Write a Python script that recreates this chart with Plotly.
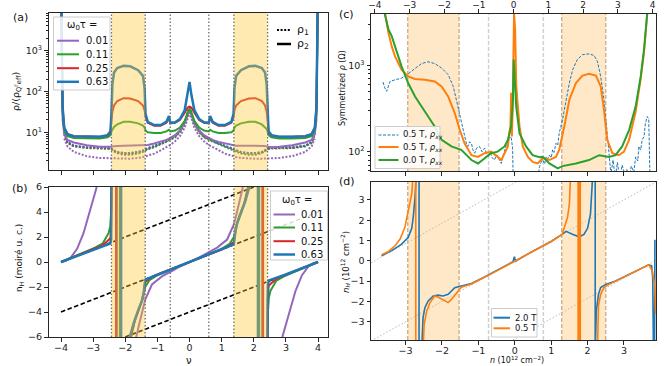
import plotly.graph_objects as go

W, H = 664, 366
FONT = "DejaVu Sans"

# ---------- data: panel (a) theory resistivity ----------
NU_A = [-3.99, -3.95, -3.9, -3.8, -3.6, -3.2, -2.8, -2.55, -2.46, -2.43, -2.4, -2.35, -2.25, -2.05, -1.85,
        -1.6, -1.45, -1.4, -1.37, -1.3, -1.1, -0.9, -0.72, -0.64, -0.6, -0.45, -0.3, -0.15, -0.06, 0,
        0.06, 0.15, 0.3, 0.45, 0.6, 0.64, 0.72, 0.9, 1.1, 1.3, 1.37, 1.4, 1.45, 1.6, 1.85,
        2.05, 2.25, 2.35, 2.4, 2.43, 2.46, 2.55, 2.8, 3.2, 3.6, 3.8, 3.9, 3.95, 3.99]

RHO2_063 = [12000, 40, 13, 9, 8, 7.8, 7.8, 8.5, 10.5, 30, 150, 290, 370, 420, 410, 330, 240, 120, 28, 18,
            15, 15, 18, 25, 17, 17.5, 21, 35, 80, 170,
            80, 35, 21, 17.5, 17, 25, 18, 15, 15, 18, 28, 120, 240, 330, 410, 420, 370, 290, 150, 30,
            10.5, 8.5, 7.8, 7.8, 8, 9, 13, 40, 12000]
RHO2_025 = [12000, 40, 13, 9, 8, 7.7, 7.7, 8.3, 10, 20, 32, 45, 58, 68, 67, 58, 45, 35, 24, 17,
            14.5, 14.5, 17, 23, 16.5, 17, 20, 30, 40, 42,
            40, 30, 20, 17, 16.5, 23, 17, 14.5, 14.5, 17, 24, 35, 45, 58, 67, 68, 58, 45, 32, 20,
            10, 8.3, 7.7, 7.7, 8, 9, 13, 40, 12000]
RHO2_011 = [12000, 30, 11, 8, 7.2, 7, 7, 7.5, 8.5, 10.5, 12, 13.5, 15.5, 18, 18, 16.5, 14.5, 13, 11, 10,
            9.6, 9.6, 10.5, 11.5, 10.5, 11, 13, 19, 30, 36,
            30, 19, 13, 11, 10.5, 11.5, 10.5, 9.6, 9.6, 10, 11, 13, 14.5, 16.5, 18, 18, 15.5, 13.5, 12, 10.5,
            8.5, 7.5, 7, 7, 7.2, 8, 11, 30, 12000]
RHO2_001 = [12000, 20, 9, 6.5, 5.6, 4.8, 4.4, 4.3, 4.4, 4.5, 4.5, 4.6, 4.6, 4.7, 4.7, 4.7, 4.7, 4.7, 4.8, 4.9,
            5.3, 5.8, 6.5, 7, 7.3, 8.5, 11, 17, 27, 33,
            27, 17, 11, 8.5, 7.3, 7, 6.5, 5.8, 5.3, 4.9, 4.8, 4.7, 4.7, 4.7, 4.7, 4.7, 4.6, 4.6, 4.5, 4.5,
            4.4, 4.3, 4.4, 4.8, 5.6, 6.5, 9, 20, 12000]

RHO1_001 = [None, None, 7, 4.5, 3.3, 2.6, 2.35, 2.3, 2.3, 2.3, 2.28, 2.27, 2.25, 2.25, 2.25, 2.35, 2.45, 2.5, 2.55, 2.7,
            3.0, 3.6, 4.3, 4.7, 4.9, 6, 8, 13, 22, 30,
            22, 13, 8, 6, 4.9, 4.7, 4.3, 3.6, 3.0, 2.7, 2.55, 2.5, 2.45, 2.35, 2.25, 2.25, 2.25, 2.27, 2.28, 2.3,
            2.3, 2.3, 2.35, 2.6, 3.3, 4.5, 7, None, None]
RHO1_011 = [None, None, 9, 5.5, 4.5, 4.1, 4.0, 4.0, 3.9, 3.8, 3.6, 3.4, 3.1, 2.8, 2.8, 3.0, 3.3, 3.5, 3.6, 3.8,
            4.3, 5.0, 5.8, 6.3, 6.5, 7.5, 10, 16, 27, 36,
            27, 16, 10, 7.5, 6.5, 6.3, 5.8, 5.0, 4.3, 3.8, 3.6, 3.5, 3.3, 3.0, 2.8, 2.8, 3.1, 3.4, 3.6, 3.8,
            3.9, 4.0, 4.0, 4.1, 4.5, 5.5, 9, None, None]
RHO1_025 = [None, None, 9, 5.6, 4.6, 4.2, 4.1, 4.1, 4.0, 3.9, 3.7, 3.5, 3.2, 3.0, 3.0, 3.2, 3.5, 3.7, 3.8, 4.0,
            4.5, 5.2, 6.0, 6.6, 6.8, 7.8, 10.5, 17, 29, 40,
            29, 17, 10.5, 7.8, 6.8, 6.6, 6.0, 5.2, 4.5, 4.0, 3.8, 3.7, 3.5, 3.2, 3.0, 3.0, 3.2, 3.5, 3.7, 3.9,
            4.0, 4.1, 4.1, 4.2, 4.6, 5.6, 9, None, None]
RHO1_063 = [None, None, 9.5, 5.8, 4.7, 4.3, 4.2, 4.2, 4.1, 4.0, 3.8, 3.6, 3.3, 3.1, 3.1, 3.3, 3.6, 3.8, 3.9, 4.1,
            4.6, 5.3, 6.1, 6.8, 7.0, 8.0, 11, 18, 30, 45,
            30, 18, 11, 8.0, 7.0, 6.8, 6.1, 5.3, 4.6, 4.1, 3.9, 3.8, 3.6, 3.3, 3.1, 3.1, 3.3, 3.6, 3.8, 4.0,
            4.1, 4.2, 4.2, 4.3, 4.7, 5.8, 9.5, None, None]

# ---------- data: panel (b) Hall density ----------
NU_B_001 = [-4.0, -3.85, -3.7, -3.5, -3.3, -3.1, -2.9, -2.8, -2.26, -2.26, -1.66, -1.55, -1.45, -1.38, -1.17,
            -0.86, -0.55, -0.3, 0.3, 0.55, 0.86, 1.17, 1.38, 1.45, 1.55, 1.66, 2.26, 2.26, 2.8, 2.9,
            3.1, 3.3, 3.5, 3.7, 3.85, 4.0]
NH_B_001 = [0.0, 0.1, 0.35, 1.05, 2.3, 4.1, 5.9, 8.0, 8.0, -8.0, -6.0, -4.8, -3.7, -3.0, -1.8,
            -1.15, -0.72, -0.36, 0.36, 0.72, 1.15, 1.8, 3.0, 3.7, 4.8, 6.0, 8.0, -8.0, -8.0, -5.9,
            -4.1, -2.3, -1.05, -0.35, -0.1, 0.0]
NU_B_011 = [-4.0, -3.6, -3.25, -2.94, -2.7, -2.52, -2.47, -2.44, -2.42, -2.17, -2.17, -1.82, -1.7, -1.55, -1.45,
            -1.38, -1.25, -1.0, -0.7, 0.7, 1.0, 1.25, 1.38, 1.45, 1.55, 1.7, 1.82, 2.17, 2.17, 2.42,
            2.44, 2.47, 2.52, 2.7, 2.94, 3.25, 3.6, 4.0]
NH_B_011 = [0.0, 0.42, 0.8, 1.15, 1.5, 2.3, 2.85, 4.0, 8.0, 8.0, -8.0, -6.0, -4.7, -3.7, -2.9,
            -2.0, -1.45, -1.05, -0.72, 0.72, 1.05, 1.45, 2.0, 2.9, 3.7, 4.7, 6.0, 8.0, -8.0, -8.0,
            -4.0, -2.85, -2.3, -1.5, -1.15, -0.8, -0.42, 0.0]
NU_B_025 = [-4.0, -3.0, -2.7, -2.52, -2.46, -2.44, -2.42, -2.29, -2.29, -1.84, -1.72, -1.57, -1.47, -1.41, -1.38,
            -1.2, -1.0, 1.0, 1.2, 1.38, 1.41, 1.47, 1.57, 1.72, 1.84, 2.29, 2.29, 2.42, 2.44, 2.46,
            2.52, 2.7, 3.0, 4.0]
NH_B_025 = [0.0, 1.02, 1.35, 1.75, 1.95, 3.0, 8.0, 8.0, -8.0, -6.0, -4.8, -3.7, -3.0, -2.2, -1.6,
            -1.25, -1.0, 1.0, 1.25, 1.6, 2.2, 3.0, 3.7, 4.8, 6.0, 8.0, -8.0, -8.0, -3.0, -1.95,
            -1.75, -1.35, -1.02, 0.0]
NU_B_063 = [-4.0, -3.0, -2.47, -2.44, -2.43, -2.42, -2.13, -2.13, -1.86, -1.74, -1.59, -1.49, -1.43, -1.38,
            1.38, 1.43, 1.49, 1.59, 1.74, 1.86, 2.13, 2.13, 2.42, 2.43, 2.44, 2.47, 3.0, 4.0]
NH_B_063 = [0.0, 1.0, 1.47, 1.8, 3.0, 8.0, 8.0, -8.0, -6.0, -4.9, -3.8, -3.15, -2.5, -1.42,
            1.42, 2.5, 3.15, 3.8, 4.9, 6.0, 8.0, -8.0, -8.0, -3.0, -1.8, -1.47, -1.0, 0.0]
GUIDE_NU = [[-4, 2], [-4, 4], [-2, 4]]
GUIDE_NH = [[0, 6], [-4, 4], [-6, 0]]

OMEGA_TAU = ["0.01", "0.11", "0.25", "0.63"]
BANDS_NU = [[-2.43, -1.38], [1.38, 2.43]]
DOTS_NU = [-0.6, 0.6]

# ---------- data: panel (c) measured resistivity ----------
N_C_XY = [-3.62, -3.58, -3.52, -3.43, -3.29, -3.11, -2.93, -2.74, -2.56, -2.38, -2.2, -2.01, -1.83, -1.69, -1.56,
          -1.47, -1.38, -1.33, -1.29, -1.24, -1.19, -1.15, -1.1, -1.05, -0.97, -0.9, -0.83, -0.78, -0.74, -0.68,
          -0.62, -0.56, -0.5, -0.47, -0.42, -0.37, -0.32, -0.28, -0.23, -0.19, -0.14, -0.1, -0.06, -0.05,
          -0.04, 0.6, 0.65, 0.68, 0.72, 0.77, 0.82, 0.86, 0.9, 0.95, 1.0, 1.04, 1.08, 1.13, 1.18,
          1.22, 1.31, 1.41, 1.5, 1.59, 1.72, 1.86, 2.04, 2.18, 2.27, 2.36, 2.45, 2.54, 2.59, 2.64,
          2.7, 2.76, 2.82, 2.88, 2.95, 3.02, 3.08, 3.14, 3.2, 3.27, 3.32, 3.38, 3.41, 3.46, 3.5,
          3.55, 3.59, 3.64, 3.68, 3.7, 3.72]
RHO_C_XY = [640, 560, 500, 650, 680, 710, 800, 930, 1050, 1100, 1050, 930, 780, 570, 333,
            214, 149, 125, 115, 130, 125, 105, 96, 110, 115, 100, 110, 95, 87, 100,
            85, 80, 92, 87, 78, 73, 90, 105, 120, 137, 145, 149, 110, 40,
            40, 40, 60, 67, 75, 80, 72, 87, 82, 91, 85, 105, 98, 125, 118,
            163, 234, 400, 624, 890, 1170, 1330, 1360, 1300, 1110, 745, 400, 163, 80, 55,
            80, 50, 75, 48, 70, 55, 62, 50, 68, 58, 87, 78, 115, 105, 137,
            150, 214, 255, 240, 150, 40]
N_C_XX05 = [-3.6, -3.47, -3.38, -3.29, -3.11, -2.93, -2.74, -2.47, -2.2, -2.01, -1.83, -1.65, -1.51, -1.38, -1.19,
            -1.01, -0.83, -0.65, -0.47, -0.37, -0.28, -0.19, -0.15, -0.12, -0.1, -0.08, -0.06, -0.04, -0.02, 0.01,
            0.04, 0.07, 0.13, 0.22, 0.36, 0.49, 0.63, 0.77, 0.95, 1.13, 1.22, 1.36, 1.5, 1.68, 1.86,
            2.04, 2.23, 2.36, 2.45, 2.54, 2.68, 2.86, 3.0, 3.14, 3.32, 3.46, 3.55, 3.64, 3.66]
RHO_C_XX05 = [5000, 2380, 1660, 1270, 890, 745, 695, 680, 650, 570, 436, 280, 178, 125, 91,
              87, 96, 100, 87, 80, 96, 115, 163, 200, 480, 150, 290, 3400, 4000, 2600,
              600, 400, 196, 115, 87, 76, 73, 84, 80, 87, 105, 196, 400, 624, 760,
              800, 760, 570, 305, 137, 96, 91, 100, 137, 290, 700, 1400, 4000, 5000]
N_C_XX00 = [-3.6, -3.57, -3.47, -3.38, -3.29, -3.11, -2.93, -2.74, -2.56, -2.38, -2.2, -2.01, -1.74, -1.47, -1.38,
            -1.19, -1.01, -0.83, -0.65, -0.47, -0.28, -0.19, -0.1, -0.05, -0.03, 0.04, 0.13, 0.31, 0.49, 0.68,
            0.77, 0.95, 1.18, 1.31, 1.68, 2.04, 2.32, 2.59, 2.77, 2.95, 3.14, 3.32, 3.46, 3.55, 3.64, 3.66]
RHO_C_XX00 = [5000, 3900, 2600, 2180, 1660, 975, 624, 436, 333, 255, 196, 137, 115, 105, 96,
              80, 73, 84, 96, 100, 115, 137, 196, 400, 1170, 333, 163, 115, 91, 86,
              87, 73, 64, 68, 73, 80, 91, 87, 91, 115, 178, 333, 745, 1520, 3900, 5000]
LABELS_C = ["0.5 T, <i>ρ<sub>xy</sub></i>", "0.5 T, <i>ρ<sub>xx</sub></i>", "0.0 T, <i>ρ<sub>xx</sub></i>"]

# ---------- data: panel (d) measured Hall density ----------
N_D_20 = [-3.66, -3.38, -3.11, -2.93, -2.83, -2.79, -2.74, -2.7, -2.63, -2.63, -2.56, -2.52, -2.47, -2.38, -2.24,
          -2.11, -1.97, -1.83, -1.65, -1.47, -1.19, -0.83, -0.47, -0.05, -0.01, 0.0, 0.02, 0.4, 1.0, 1.3,
          1.41, 1.6, 1.77, 1.9, 2.0, 2.08, 2.12, 2.15, 2.21, 2.21, 2.24, 2.3, 2.36, 2.5, 2.77,
          3.14, 3.5, 3.68, 3.76, 3.79, 3.81, 3.84, 3.85, 3.87]
NH_D_20 = [0.25, 0.5, 0.82, 1.15, 1.6, 2.14, 3.13, 4.5, 4.5, -4.5, -4.5, -2.81, -2.31, -1.98, -1.73,
           -1.69, -1.73, -1.65, -1.32, -1.24, -1.12, -0.8, -0.45, -0.05, 0.2, 0.05, -0.02, 0.38, 0.95, 1.3,
           1.45, 1.3, 1.18, 1.3, 1.6, 2.3, 3.5, 4.5, 4.5, -4.5, -2.48, -1.65, -1.32, -1.16, -0.99,
           -0.66, -0.33, -0.2, -0.25, -0.83, -4.5, -4.5, 1.0, 1.0]
N_D_05 = [-3.66, -3.47, -3.29, -3.15, -3.02, -2.93, -2.83, -2.78, -2.72, -2.72, -2.52, -2.49, -2.42, -2.33, -2.2,
          -2.1, -2.01, -1.92, -1.83, -1.74, -1.6, -1.47, -1.19, -0.83, -0.47, 0.0, 0.4, 1.0, 1.3, 1.36,
          1.45, 1.5, 1.54, 1.74, 1.74, 1.77, 1.77, 1.8, 1.8, 2.27, 2.3, 2.36, 2.45, 2.59, 2.77,
          3.14, 3.5, 3.68, 3.78, 3.85, 3.87]
NH_D_05 = [0.3, 0.46, 0.74, 1.07, 1.65, 2.47, 3.3, 4.5, 4.5, -4.5, -4.5, -3.14, -2.48, -2.06, -1.73,
           -1.8, -1.9, -1.98, -2.06, -1.9, -1.57, -1.3, -1.14, -0.82, -0.47, -0.02, 0.38, 0.95, 1.3, 1.65,
           2.14, 2.8, 4.5, 4.5, -4.5, -4.5, 4.5, 4.5, -4.5, -4.5, -2.2, -1.65, -1.32, -1.16, -1.0,
           -0.66, -0.33, -0.2, -0.5, -1.32, -2.6]
LABELS_D = ["2.0 T", "0.5 T"]
GUIDE_N = [[-3.95, 0.03], [-3.95, 3.88], [-0.05, 3.88]]
GUIDE_NHD = [[-0.1, 3.88], [-3.95, 3.88], [-3.9, 0.03]]
BANDS_N = [[-2.94, -1.53], [1.29, 2.50]]
DASH_N = [-0.72, 0.785]

PURPLE, GREEN, RED, BLUE, ORANGE = "#9467bd", "#2ca02c", "#d62728", "#1f77b4", "#ff7f0e"
DOT = "2px,1.6px"


def fx(p):
    return p / W


def fy(p):
    return 1 - p / H


fig = go.Figure()
cols = [PURPLE, GREEN, RED, BLUE]
widths = [2, 2, 2, 2.5]

# panel (a)
for c, r1 in zip(cols, [RHO1_001, RHO1_011, RHO1_025, RHO1_063]):
    fig.add_trace(go.Scatter(x=NU_A, y=r1, mode="lines", line=dict(color=c, width=2, dash=DOT),
                             showlegend=False, xaxis="x", yaxis="y"))
for c, w, r2 in zip(cols, widths, [RHO2_001, RHO2_011, RHO2_025, RHO2_063]):
    fig.add_trace(go.Scatter(x=NU_A, y=r2, mode="lines", line=dict(color=c, width=w),
                             showlegend=False, xaxis="x", yaxis="y"))

# panel (b)
for gx, gy in zip(GUIDE_NU, GUIDE_NH):
    fig.add_trace(go.Scatter(x=gx, y=gy, mode="lines", line=dict(color="black", width=1.6, dash="4.5px,2.5px"),
                             showlegend=False, xaxis="x2", yaxis="y2"))
for c, w, bx, by in zip(cols, widths, [NU_B_001, NU_B_011, NU_B_025, NU_B_063],
                        [NH_B_001, NH_B_011, NH_B_025, NH_B_063]):
    fig.add_trace(go.Scatter(x=bx, y=by, mode="lines", line=dict(color=c, width=w),
                             showlegend=False, xaxis="x2", yaxis="y2"))

# panel (c)
fig.add_trace(go.Scatter(x=N_C_XY, y=RHO_C_XY, mode="lines", line=dict(color=BLUE, width=1, dash="3px,1.5px"),
                         showlegend=False, xaxis="x3", yaxis="y3"))
fig.add_trace(go.Scatter(x=N_C_XX05, y=RHO_C_XX05, mode="lines", line=dict(color=ORANGE, width=2),
                         showlegend=False, xaxis="x3", yaxis="y3"))
fig.add_trace(go.Scatter(x=N_C_XX00, y=RHO_C_XX00, mode="lines", line=dict(color=GREEN, width=2),
                         showlegend=False, xaxis="x3", yaxis="y3"))
fig.add_trace(go.Scatter(x=[None], y=[None], showlegend=False, xaxis="x5", yaxis="y3"))

# panel (d)
for gx, gy in zip(GUIDE_N, GUIDE_NHD):
    fig.add_trace(go.Scatter(x=gx, y=gy, mode="lines", line=dict(color="#bbbbbb", width=1, dash="1.5px,2px"),
                             showlegend=False, xaxis="x4", yaxis="y4"))
fig.add_trace(go.Scatter(x=N_D_20, y=NH_D_20, mode="lines", line=dict(color=BLUE, width=1.6),
                         showlegend=False, xaxis="x4", yaxis="y4"))
fig.add_trace(go.Scatter(x=N_D_05, y=NH_D_05, mode="lines", line=dict(color=ORANGE, width=1.6),
                         showlegend=False, xaxis="x4", yaxis="y4"))

# shaded bands and guide lines
shapes = []
for xr, yr in [("x", "y domain"), ("x2", "y2 domain")]:
    for b0, b1 in BANDS_NU:
        shapes.append(dict(type="rect", xref=xr, yref=yr, x0=b0, x1=b1, y0=0, y1=1, layer="above",
                           fillcolor="#FFC832", opacity=0.38, line=dict(width=0)))
    for v in [b for pair in BANDS_NU for b in pair] + DOTS_NU:
        shapes.append(dict(type="line", xref=xr, yref=yr, x0=v, x1=v, y0=0, y1=1, layer="above",
                           line=dict(color="#707070", width=1.3, dash="1.5px,2px")))
for xr, yr in [("x3", "y3 domain"), ("x4", "y4 domain")]:
    for b0, b1 in BANDS_N:
        shapes.append(dict(type="rect", xref=xr, yref=yr, x0=b0, x1=b1, y0=0, y1=1, layer="below",
                           fillcolor="#FFB347", opacity=0.3, line=dict(width=0)))
    for v in [b for pair in BANDS_N for b in pair]:
        shapes.append(dict(type="line", xref=xr, yref=yr, x0=v, x1=v, y0=0, y1=1, layer="below",
                           line=dict(color="#c8a57c", width=1.2, dash="4px,2px")))
    for v in DASH_N:
        shapes.append(dict(type="line", xref=xr, yref=yr, x0=v, x1=v, y0=0, y1=1, layer="below",
                           line=dict(color="#d0d0d0", width=1.5, dash="4px,2px")))

ann = []


def note(txt, x, y, size, xanchor="center", angle=0):
    ann.append(dict(text=txt, x=fx(x), y=fy(y), xref="paper", yref="paper", xanchor=xanchor,
                    yanchor="middle", textangle=angle, showarrow=False, font=dict(size=size, color="#111")))


def legend_block(box, rows, lx0, lx1, tx, size, title=None):
    # compact matplotlib-like legend drawn in pixel positions
    if box:
        shapes.append(dict(type="rect", xref="paper", yref="paper", x0=fx(box[0]), x1=fx(box[2]),
                           y0=fy(box[3]), y1=fy(box[1]), layer="above", fillcolor="rgba(255,255,255,0.85)",
                           line=dict(color="#cccccc", width=1)))
    if title:
        note(title[0], title[1], title[2], size)
    for label, color, width, dash, y in rows:
        shapes.append(dict(type="line", xref="paper", yref="paper", x0=fx(lx0), x1=fx(lx1), y0=fy(y), y1=fy(y),
                           layer="above", line=dict(color=color, width=width, dash=dash)))
        note(label, tx, y, size, xanchor="left")


legend_block((53.5, 17, 110, 90),
             [(lab, c, w, "solid", y) for lab, c, w, y in zip(OMEGA_TAU, cols, widths, [40.7, 54.3, 68.2, 81.8])],
             57, 79, 84, 10, title=("ω<sub>0</sub>τ =", 81.5, 26))
legend_block(None, [("ρ<sub>1</sub>", "black", 2.2, DOT, 30), ("ρ<sub>2</sub>", "black", 2.5, "solid", 44)],
             277, 291, 295, 11)
legend_block((270.5, 191, 327.5, 260),
             [(lab, c, w, "solid", y) for lab, c, w, y in zip(OMEGA_TAU, cols, widths, [214.5, 227.5, 241.2, 254.5])],
             273.5, 295, 299, 10, title=("ω<sub>0</sub>τ =", 297, 200))
legend_block((375, 126.5, 440, 168.5),
             [(LABELS_C[0], BLUE, 1, "3px,1.5px", 135), (LABELS_C[1], ORANGE, 2, "solid", 147),
              (LABELS_C[2], GREEN, 2, "solid", 160)],
             378.5, 398.5, 401, 8.5)
legend_block((491.5, 308.5, 537, 337),
             [(LABELS_D[0], BLUE, 2, "solid", 317.7), (LABELS_D[1], ORANGE, 2, "solid", 328.3)],
             493.5, 510, 513, 8.5)

for txt, x, y in [("(a)", 20, 17), ("(b)", 20, 188), ("(c)", 347, 14), ("(d)", 347, 181)]:
    note(txt, x, y, 11)
note("ρ/(ρ<sub>Q<sup>Γ</sup>eff</sub>)", 16, 92, 9.5, angle=-90)
note("n<sub>H</sub> (moiré u. c.)", 19, 258, 9, angle=-90)
note("ν", 189, 360.5, 10)
note("Symmetrized <i>ρ</i> (Ω)", 342, 88, 8, angle=-90)
note("<i>n<sub>H</sub></i> (10<sup>12</sup> cm<sup>−2</sup>)", 345, 262, 8.5, angle=-90)
note("<i>n</i> (10<sup>12</sup> cm<sup>−2</sup>)", 517, 360, 8)

AX = dict(showline=True, mirror=True, linecolor="#262626", linewidth=1, ticks="outside", ticklen=3.5,
          tickwidth=0.8, tickcolor="#262626", showgrid=False, zeroline=False,
          tickfont=dict(size=9.5, color="#222"))
MINOR_A = [2, 3, 4, 5, 6, 7, 8, 9, 20, 30, 40, 50, 60, 70, 80, 90, 200, 300, 400, 500, 600, 700, 800, 900,
           2000, 3000, 4000, 5000, 6000, 7000, 8000]
MINOR_C = [60, 70, 80, 90, 200, 300, 400, 500, 600, 700, 800, 900, 2000, 3000, 4000]
NU_TICKS = [-4, -3, -2, -1, 0, 1, 2, 3, 4]
N_TICKS = [-3, -2, -1, 0, 1, 2, 3]

fig.update_layout(
    width=W, height=H, margin=dict(l=0, r=0, t=0, b=0, autoexpand=False),
    paper_bgcolor="white", plot_bgcolor="white", showlegend=False,
    font=dict(family=FONT, size=10, color="#111"),
    xaxis=dict(domain=[fx(48.5), fx(328)], anchor="y", range=[-4.39, 4.31], tickvals=NU_TICKS,
               showticklabels=False, **AX),
    yaxis=dict(domain=[fy(170), fy(13)], anchor="x", type="log", range=[0.076, 3.917],
               tickvals=[10, 100, 1000], ticktext=["10<sup>1</sup>", "10<sup>2</sup>", "10<sup>3</sup>"],
               minor=dict(tickvals=MINOR_A, ticks="outside", ticklen=2, tickcolor="#262626"), **AX),
    xaxis2=dict(domain=[fx(48.5), fx(328)], anchor="y2", range=[-4.39, 4.31], tickvals=NU_TICKS,
                ticklabelstandoff=-2, **AX),
    yaxis2=dict(domain=[fy(337), fy(187)], anchor="x2", range=[-6, 6], tickvals=[-6, -4, -2, 0, 2, 4, 6], **AX),
    xaxis3=dict(domain=[fx(371), fx(656)], anchor="y3", range=[-3.95, 3.88], tickvals=N_TICKS,
                showticklabels=False, **AX),
    yaxis3=dict(domain=[fy(171), fy(13.5)], anchor="x3", type="log", range=[1.776, 3.601],
                tickvals=[100, 1000], ticktext=["10<sup>2</sup>", "10<sup>3</sup>"],
                minor=dict(tickvals=MINOR_C, ticks="outside", ticklen=2, tickcolor="#262626"), **AX),
    xaxis4=dict(domain=[fx(371), fx(656)], anchor="y4", range=[-3.95, 3.88], tickvals=N_TICKS,
                ticklabelstandoff=-2, **AX),
    yaxis4=dict(domain=[fy(340), fy(182)], anchor="x4", range=[-3.9, 3.88], tickvals=N_TICKS, **AX),
    xaxis5=dict(overlaying="x3", side="top", anchor="y3", range=[-4.11, 4.10], tickvals=NU_TICKS,
                ticks="outside", ticklen=3.5, tickwidth=0.8, tickcolor="#262626", showgrid=False,
                zeroline=False, showline=False, ticklabelstandoff=-3, tickfont=dict(size=9, color="#222")),
    shapes=shapes,
    annotations=ann,
)

# the page body has a default 8px margin; remove it so the figure sits at the window origin
fig.write_html("out.html", config={"displayModeBar": False},
               post_script="document.body.style.margin='0';document.body.style.overflow='hidden';")
